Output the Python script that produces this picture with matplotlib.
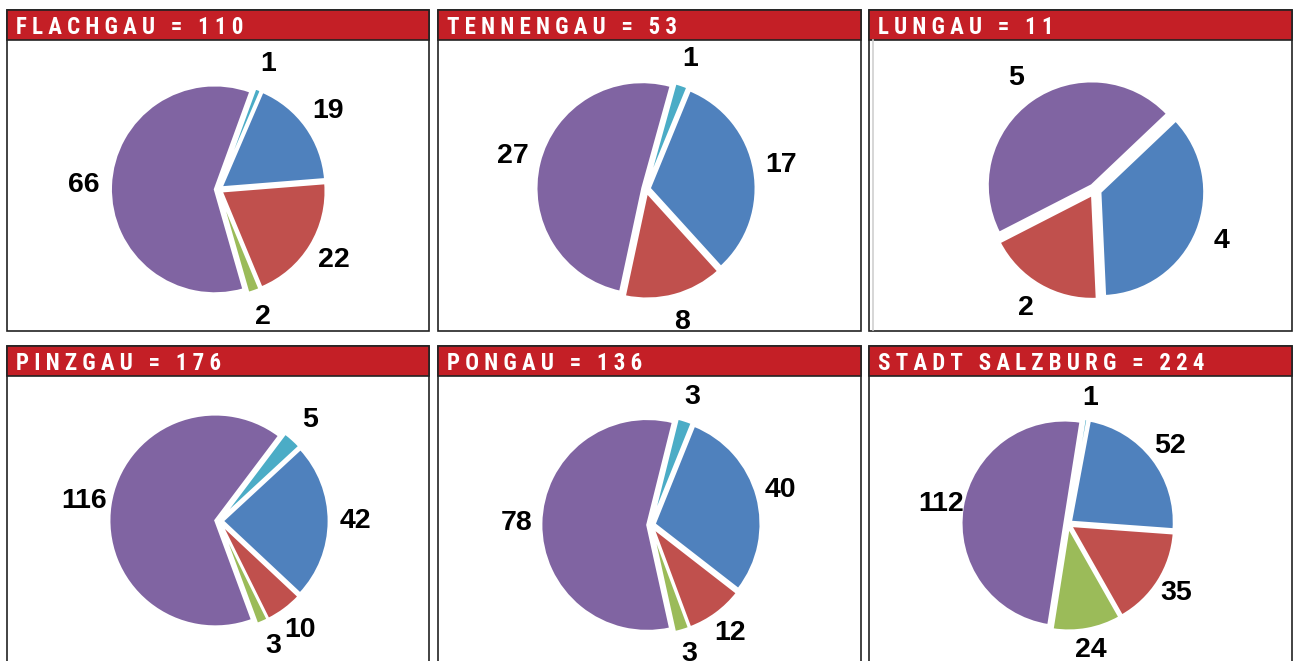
import matplotlib
matplotlib.use('Agg')
import matplotlib.pyplot as plt
from matplotlib.patches import Rectangle
from matplotlib import font_manager

# ---------------- data ----------------
regions = ["FLACHGAU", "TENNENGAU", "LUNGAU", "PINZGAU", "PONGAU", "STADT SALZBURG"]
totals = [110, 53, 11, 176, 136, 224]
# slice order (clockwise): teal, blue, red, green, purple
teal = [1, 1, 0, 5, 3, 1]
blue = [19, 17, 4, 42, 40, 52]
red = [22, 8, 2, 10, 12, 35]
green = [2, 0, 0, 3, 3, 24]
purple = [66, 27, 5, 116, 78, 112]
slice_colors = ['#4BACC6', '#4F81BD', '#C0504D', '#9BBB59', '#8064A2']

# ---------------- layout (pixels) ----------------
W, H, DPI = 1300, 661, 100
col_x0 = [7, 438, 869]
col_x1 = [429, 861, 1292]
row_y0 = [10, 346]
row_y1 = [331, 720]
header_h = 30
pie_cx = [218.5, 646, 1095, 219, 651, 1068]
pie_cy = [189.5, 189, 190, 521, 525, 524]
pie_r = [104, 106, 104, 106, 106, 103]
start_angles = [70, 74.5, 43.5, 53, 76, 81]
explode_frac = [0.035, 0.035, 0.055, 0.035, 0.035, 0.035]
label_dist = [1.26, 1.26, 1.26, 1.25, 1.23, 1.21]

header_color = '#C41F26'
border_color = '#222222'

avail = {f.name for f in font_manager.fontManager.ttflist}
title_family = next((f for f in ['Liberation Sans Narrow', 'Roboto Condensed', 'Open Sans Condensed']
                     if f in avail), 'Liberation Sans')
label_family = 'Liberation Sans' if 'Liberation Sans' in avail else 'DejaVu Sans'


def spaced(s):
    return '   '.join(' '.join(w) for w in s.split(' '))


fig = plt.figure(figsize=(W / DPI, H / DPI), dpi=DPI)
fig.patch.set_facecolor('white')

bg = fig.add_axes([0, 0, 1, 1])
bg.set_xlim(0, W)
bg.set_ylim(H, 0)
bg.axis('off')

for i, name in enumerate(regions):
    r_i, c_i = divmod(i, 3)
    x0, x1 = col_x0[c_i], col_x1[c_i]
    y0, y1 = row_y0[r_i], row_y1[r_i]
    bg.add_patch(Rectangle((x0, y0), x1 - x0, y1 - y0, facecolor='white',
                           edgecolor=border_color, lw=1.2))
    bg.add_patch(Rectangle((x0, y0), x1 - x0, header_h, facecolor=header_color,
                           edgecolor=border_color, lw=1.2))
    fig.text((x0 + 9) / W, 1 - (y0 + 24) / H, spaced(f"{name} = {totals[i]}"),
             color='white', fontsize=16.5, fontweight='bold', family=title_family,
             ha='left', va='baseline')

# faint inner line in Lungau panel
bg.plot([873, 873], [row_y0[0] + header_h, row_y1[0] - 1], color='#cfcfcf', lw=1.2)

for i in range(len(regions)):
    vals = [teal[i], blue[i], red[i], green[i], purple[i]]
    keep = [k for k, v in enumerate(vals) if v > 0]
    v = [vals[k] for k in keep]
    cols = [slice_colors[k] for k in keep]
    S = 360
    cx, cy, r = pie_cx[i], pie_cy[i], pie_r[i]
    ax = fig.add_axes([(cx - S / 2) / W, (H - cy - S / 2) / H, S / W, S / H])
    ax.set_facecolor('none')
    wedges, texts = ax.pie(v, colors=cols, startangle=start_angles[i], counterclock=False,
                           explode=[explode_frac[i]] * len(v), radius=1,
                           labels=[str(x) for x in v], labeldistance=label_dist[i],
                           wedgeprops=dict(edgecolor='white', linewidth=1.6),
                           textprops=dict(fontsize=20.5, fontweight='bold',
                                          family=label_family, color='black'))
    for t in texts:
        t.set_ha('center')
        t.set_va('center')
        t.set_clip_on(False)
    lim = S / 2 / r
    ax.set_xlim(-lim, lim)
    ax.set_ylim(-lim, lim)
    ax.set_aspect('auto')
    ax.axis('off')

fig.savefig('out.png', dpi=DPI, facecolor='white')
